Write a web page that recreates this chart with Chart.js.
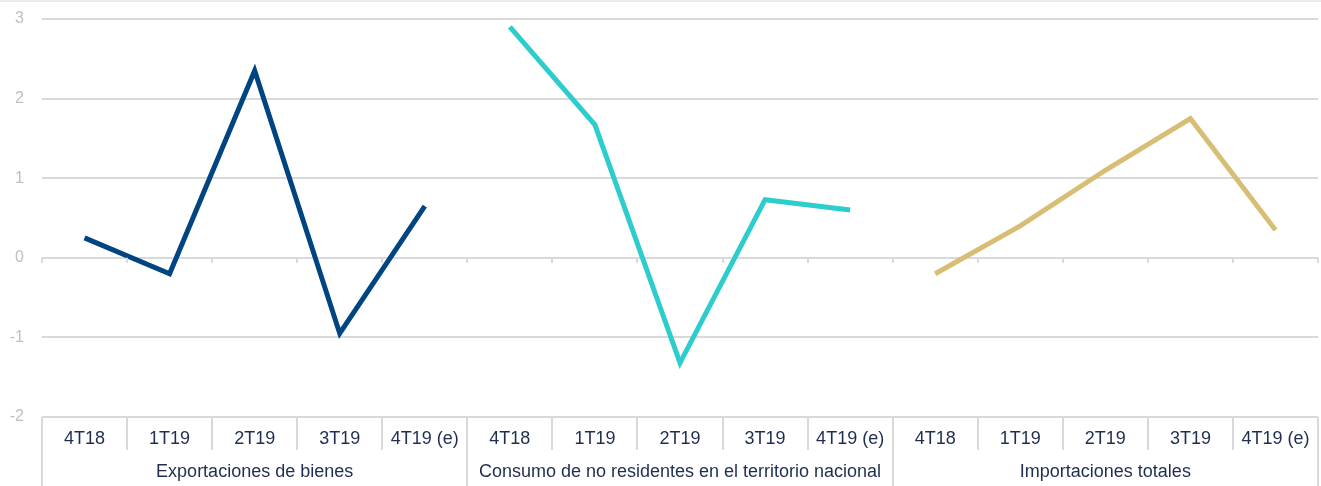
<!DOCTYPE html>
<html>
<head>
<meta charset="utf-8">
<script src="https://cdn.jsdelivr.net/npm/chart.js@4/dist/chart.umd.min.js"></script>
<style>
  html, body { margin: 0; padding: 0; background: #fff; }
  #wrap { width: 1321px; height: 486px; }
</style>
</head>
<body>
<div id="wrap"><canvas id="chart" width="1321" height="486"></canvas></div>
<script>
// quarters repeated for each block
var quarters = ['4T18', '1T19', '2T19', '3T19', '4T19 (e)'];
var groups = ['Exportaciones de bienes', 'Consumo de no residentes en el territorio nacional', 'Importaciones totales'];

var exportaciones = [0.25, -0.2, 2.35, -0.95, 0.65];
var consumoNoRes = [2.9, 1.67, -1.32, 0.73, 0.6];
var importaciones = [-0.2, 0.4, 1.1, 1.75, 0.35];

var yTicks = [-2, -1, 0, 1, 2, 3];

// build 15 slots, each series only fills its own block
var labels = [];
groups.forEach(function () { labels = labels.concat(quarters); });

function inBlock(values, block) {
    var out = [];
    for (var i = 0; i < labels.length; i++) {
        var b = Math.floor(i / quarters.length);
        out.push(b === block ? values[i % quarters.length] : null);
    }
    return out;
}

var gridColor = '#D9D9D9';
var textColor = '#1F2D4F';
var fontFamily = '"Liberation Sans", Arial, sans-serif';

// separators, small ticks on the zero line and the group names
var groupAxisPlugin = {
    id: 'groupAxis',
    afterDraw: function (chart) {
        var ctx = chart.ctx;
        var x = chart.scales.x;
        var y = chart.scales.y;
        var area = chart.chartArea;
        var n = labels.length;
        var step = (x.getPixelForValue(1) - x.getPixelForValue(0));
        ctx.save();
        // thin band at the very top
        ctx.fillStyle = '#EBEBEB';
        ctx.fillRect(0, 0, chart.width, 2);

        ctx.strokeStyle = gridColor;
        ctx.lineWidth = 2;
        var zero = y.getPixelForValue(0);
        for (var i = 0; i <= n; i++) {
            var px = Math.round(x.getPixelForValue(i) - step / 2);
            var isGroup = i % quarters.length === 0;
            ctx.beginPath();
            ctx.moveTo(px, area.bottom);
            ctx.lineTo(px, isGroup ? chart.height : area.bottom + 33);
            ctx.stroke();
            ctx.beginPath();
            ctx.moveTo(px, zero);
            ctx.lineTo(px, zero + 5);
            ctx.stroke();
        }
        ctx.fillStyle = textColor;
        ctx.font = '18px ' + fontFamily;
        ctx.textAlign = 'center';
        ctx.textBaseline = 'middle';
        groups.forEach(function (g, gi) {
            var first = x.getPixelForValue(gi * quarters.length) - step / 2;
            var last = x.getPixelForValue((gi + 1) * quarters.length - 1) + step / 2;
            ctx.fillText(g, (first + last) / 2, area.bottom + 55);
        });
        ctx.restore();
    }
};

var ctxC = document.getElementById('chart').getContext('2d');
new Chart(ctxC, {
    type: 'line',
    data: {
        labels: labels,
        datasets: [{
            label: groups[0],
            data: inBlock(exportaciones, 0),
            borderColor: '#004481',
            backgroundColor: '#004481'
        }, {
            label: groups[1],
            data: inBlock(consumoNoRes, 1),
            borderColor: '#2DCCCD',
            backgroundColor: '#2DCCCD'
        }, {
            label: groups[2],
            data: inBlock(importaciones, 2),
            borderColor: '#D8BE75',
            backgroundColor: '#D8BE75'
        }]
    },
    options: {
        responsive: false,
        animation: false,
        spanGaps: false,
        elements: {
            line: { borderWidth: 5, tension: 0, borderJoinStyle: 'miter', borderCapStyle: 'butt' },
            point: { radius: 0, hoverRadius: 0 }
        },
        layout: { padding: { top: 19, right: 3, left: 0, bottom: 0 } },
        plugins: {
            legend: { display: false },
            tooltip: { enabled: false }
        },
        scales: {
            x: {
                offset: true,
                grid: { display: false, drawTicks: false },
                border: { display: false },
                ticks: {
                    color: textColor,
                    font: { family: fontFamily, size: 18 },
                    padding: 11,
                    maxRotation: 0,
                    autoSkip: false
                },
                afterFit: function (scale) {
                    scale.height = 69;
                    scale.paddingLeft = 0;
                    scale.paddingRight = 0;
                }
            },
            y: {
                min: yTicks[0],
                max: yTicks[yTicks.length - 1],
                grid: { color: gridColor, lineWidth: 2, drawTicks: false },
                border: { display: false },
                afterBuildTicks: function (scale) {
                    scale.ticks = yTicks.map(function (v) { return { value: v }; });
                },
                ticks: {
                    color: '#BFBFBF',
                    font: { family: fontFamily, size: 16 },
                    padding: 18
                },
                afterFit: function (scale) {
                    scale.width = 42;
                    scale.paddingTop = 0;
                    scale.paddingBottom = 0;
                }
            }
        }
    },
    plugins: [groupAxisPlugin]
});
</script>
</body>
</html>
